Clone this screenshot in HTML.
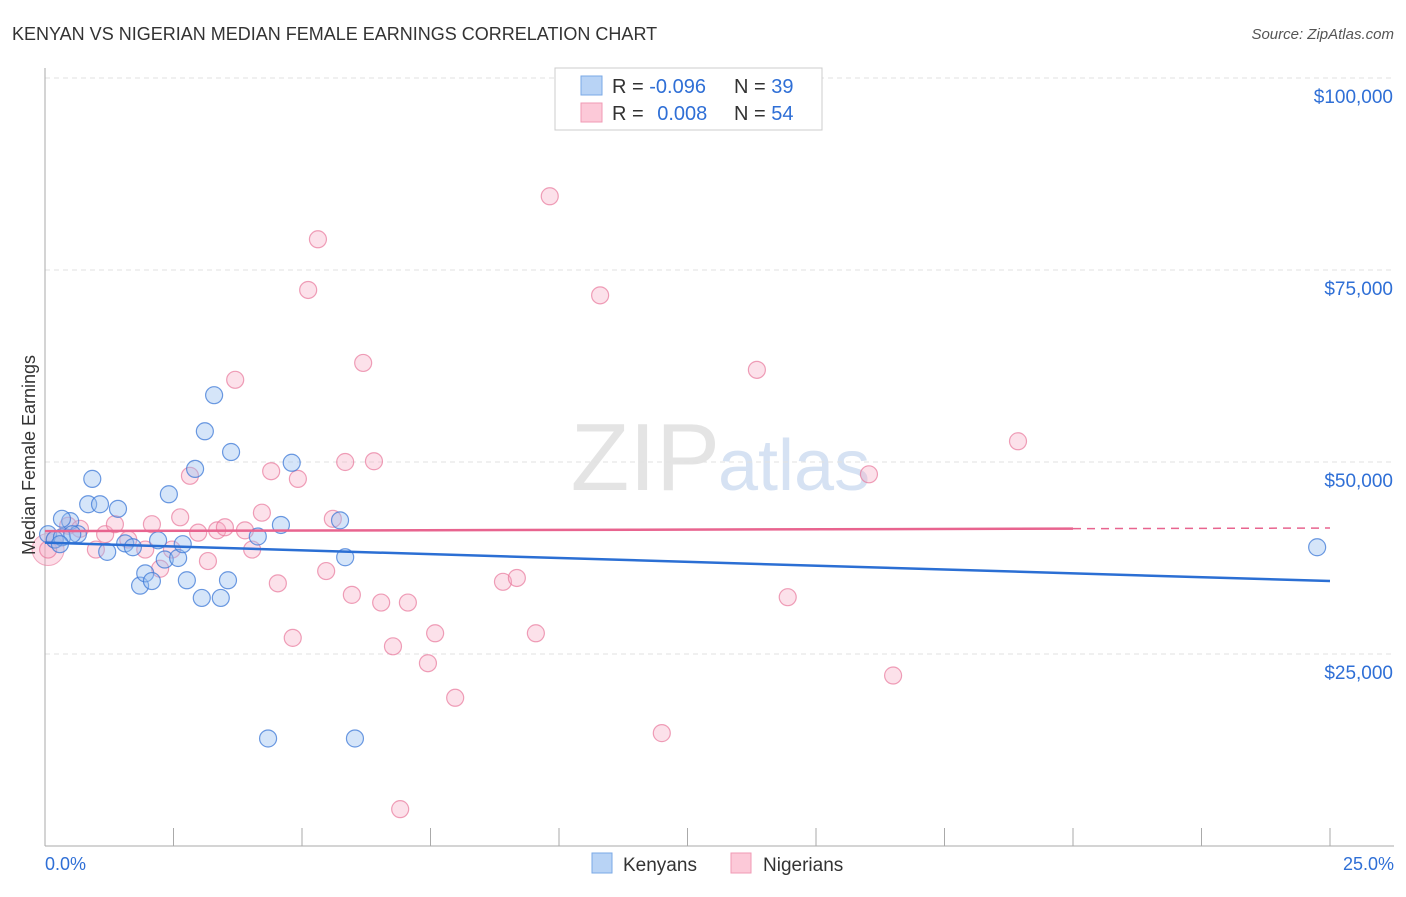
<!DOCTYPE html>
<html><head><meta charset="utf-8"><style>
body{margin:0;background:#fff;font-family:"Liberation Sans",sans-serif;}
svg text{font-family:"Liberation Sans",sans-serif;}
</style></head><body>
<svg id="chart" width="1406" height="892" xmlns="http://www.w3.org/2000/svg">
<text x="12" y="40" font-size="18" fill="#333">KENYAN VS NIGERIAN MEDIAN FEMALE EARNINGS CORRELATION CHART</text>
<text x="1394" y="39" font-size="15" fill="#555" font-style="italic" text-anchor="end">Source: ZipAtlas.com</text>
<text x="720" y="490" font-size="96" fill="#e4e4e4" font-family="Liberation Serif" text-anchor="end">ZIP</text>
<text x="718" y="490" font-size="72" fill="#d6e2f3">atlas</text>
<g id="grid"></g>
<g id="axes"></g>
<g id="points"></g>
<g id="lines"></g>
<text x="35" y="455" font-size="18" fill="#333" text-anchor="middle" transform="rotate(-90 35 455)">Median Female Earnings</text>
<g>
<rect x="555" y="68" width="267" height="62" fill="#fff" stroke="#ccc"/>
<rect x="581" y="76" width="21" height="19" fill="#b8d3f5" stroke="#7aa8e6"/>
<rect x="581" y="103" width="21" height="19" fill="#fcc9d8" stroke="#f09ab4"/>
<text x="612" y="93" font-size="20" fill="#333">R = <tspan fill="#2f6fd6">-0.096</tspan></text>
<text x="734" y="93" font-size="20" fill="#333">N = <tspan fill="#2f6fd6">39</tspan></text>
<text x="612" y="120" font-size="20" fill="#333">R = <tspan fill="#2f6fd6" dx="8">0.008</tspan></text>
<text x="734" y="120" font-size="20" fill="#333">N = <tspan fill="#2f6fd6">54</tspan></text>
</g>
<g>
<rect x="592" y="853" width="20" height="20" fill="#b8d3f5" stroke="#7aa8e6"/>
<text x="623" y="871" font-size="19" fill="#333">Kenyans</text>
<rect x="731" y="853" width="20" height="20" fill="#fcc9d8" stroke="#f09ab4"/>
<text x="763" y="871" font-size="19" fill="#333">Nigerians</text>
</g>
<text x="45" y="870" font-size="18" fill="#2f6fd6">0.0%</text>
<text x="1394" y="870" font-size="18" fill="#2f6fd6" text-anchor="end">25.0%</text>
</svg>
<script>
const yTicks=[25000,50000,75000,100000];
const yTickLabels=["$25,000","$50,000","$75,000","$100,000"];
const kenX=[0.06,0.19,0.33,0.49,0.64,0.84,0.92,1.07,1.21,1.42,1.56,1.71,1.85,1.95,2.08,2.20,2.33,2.41,2.59,2.68,2.76,2.92,3.05,3.11,3.29,3.42,3.56,3.62,4.14,4.34,4.59,4.80,5.74,5.84,6.03,24.75,0.33,0.53,0.29];
const kenY=[40600,39900,40200,42300,40600,44500,47800,44500,38300,43900,39400,38900,33900,35500,34500,39800,37300,45800,37500,39300,34600,49100,32300,54000,58700,32300,34600,51300,40300,14000,41800,49900,42400,37600,14000,38900,42600,40600,39300];
const nigX=[0.06,0.19,0.45,0.68,0.99,1.17,1.36,1.62,1.95,2.08,2.24,2.47,2.63,2.82,2.98,3.17,3.35,3.50,3.70,3.89,4.03,4.22,4.40,4.53,4.82,4.92,5.12,5.31,5.47,5.60,5.84,5.97,6.19,6.40,6.54,6.77,7.06,6.91,7.45,7.59,7.98,8.91,9.18,9.55,9.82,10.80,12.00,13.85,14.45,16.03,16.50,18.93];
const nigY=[38600,39900,41700,41300,38600,40600,41900,39900,38600,41900,36100,38600,42800,48200,40800,37100,41100,41500,60700,41100,38600,43400,48800,34200,27100,47800,72400,79000,35800,42600,50000,32700,62900,50100,31700,26000,31700,4800,23800,27700,19300,34400,34900,27700,84600,71700,14700,62000,32400,48400,22200,52700];
const blueTrend=[39500,34500];
const pinkTrend=[41000,41400];
const X0=45,X1=1330,Y0=846,YPER=192/25000;
const sx=v=>X0+(v/25)*(X1-X0);
const sy=v=>Y0-v*YPER;
const NS="http://www.w3.org/2000/svg";
function mk(t,a,p){const e=document.createElementNS(NS,t);for(const k in a)e.setAttribute(k,a[k]);p.appendChild(e);return e;}
const grid=document.getElementById('grid'),axes=document.getElementById('axes'),pts=document.getElementById('points'),lines=document.getElementById('lines');
yTicks.forEach((v,i)=>{
 const l=mk('line',{x1:X0,x2:1394,y1:sy(v),y2:sy(v),stroke:'#e2e2e2','stroke-dasharray':'5,4'},grid);
 
 
 const t=mk('text',{x:1393,y:sy(v)+25,'font-size':19,fill:'#2f6fd6','text-anchor':'end'},axes);
 t.textContent=yTickLabels[i];
 
 
});
const ya=mk('line',{x1:X0,x2:X0,y1:68,y2:Y0,stroke:'#aaa'},axes);


const xa=mk('line',{x1:X0,x2:1394,y1:Y0,y2:Y0,stroke:'#aaa'},axes);


for(let i=1;i<=10;i++){
 const tk=mk('line',{x1:sx(i*2.5),x2:sx(i*2.5),y1:828,y2:Y0,stroke:'#aaa'},axes);
 
 
}
const big=mk('circle',{cx:sx(nigX[0]),cy:sy(nigY[0]),r:16,fill:'rgba(246,160,188,0.35)',stroke:'rgba(232,120,155,0.6)'},pts);


nigX.forEach((x,i)=>{
 const c=mk('circle',{cx:sx(x),cy:sy(nigY[i]),r:8.5,fill:'rgba(246,170,195,0.35)',stroke:'rgba(232,120,155,0.7)','stroke-width':1.2},pts);
 
 
});
kenX.forEach((x,i)=>{
 const c=mk('circle',{cx:sx(x),cy:sy(kenY[i]),r:8.5,fill:'rgba(150,190,240,0.4)',stroke:'rgba(60,120,215,0.75)','stroke-width':1.2},pts);
 
 
});
const bl=mk('line',{x1:sx(0),y1:sy(blueTrend[0]),x2:sx(25),y2:sy(blueTrend[1]),stroke:'#2b6fd4','stroke-width':2.5},lines);


const pm=pinkTrend[0]+(pinkTrend[1]-pinkTrend[0])*0.8;
const pl=mk('line',{x1:sx(0),y1:sy(pinkTrend[0]),x2:sx(20),y2:sy(pm),stroke:'#e8648f','stroke-width':2.5},lines);


const pd=mk('line',{x1:sx(20),y1:sy(pm),x2:sx(25),y2:sy(pinkTrend[1]),stroke:'#e8648f','stroke-width':1.5,'stroke-dasharray':'8,6'},lines);


</script>
</body></html>
